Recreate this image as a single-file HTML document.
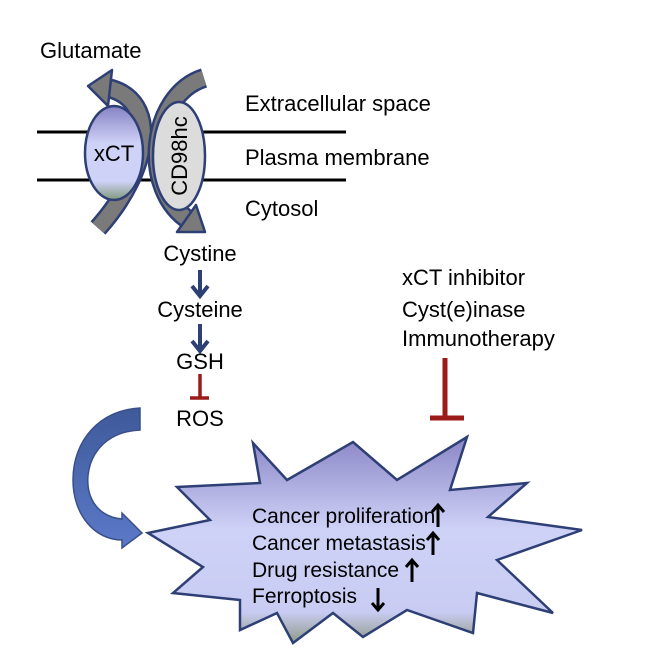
<!DOCTYPE html>
<html><head><style>
body{margin:0;background:#fff;}
svg{display:block;font-family:"Liberation Sans",Arial,sans-serif;}
</style></head><body>
<svg width="664" height="664" viewBox="0 0 664 664">
<defs>
<linearGradient id="sg" x1="0" y1="0" x2="0" y2="1">
<stop offset="0" stop-color="#8a86c6"/><stop offset="0.45" stop-color="#cfd2f7"/><stop offset="0.85" stop-color="#c9ccf2"/><stop offset="1" stop-color="#8f9a88"/>
</linearGradient>
<linearGradient id="xg" x1="0" y1="0" x2="0" y2="1">
<stop offset="0" stop-color="#8682c4"/><stop offset="0.4" stop-color="#cfd2f7"/><stop offset="0.8" stop-color="#cfd2f7"/><stop offset="1" stop-color="#7f9a7a"/>
</linearGradient>
<linearGradient id="ag" x1="0" y1="0" x2="0" y2="1">
<stop offset="0" stop-color="#3f5a9a"/><stop offset="1" stop-color="#5b79c8"/>
</linearGradient>
</defs>
<line x1="37" y1="132" x2="346" y2="132" stroke="#000" stroke-width="3"/>
<line x1="37" y1="180" x2="346" y2="180" stroke="#000" stroke-width="3"/>
<g fill="none" stroke-linecap="butt">
<path d="M98,228 C150,170 160,100 108,88" stroke="#2e3f75" stroke-width="20"/>
<path d="M98,228 C150,170 160,100 108,88" stroke="#7a7a7a" stroke-width="15"/>
<path d="M204,78 C150,95 140,190 190,221" stroke="#2e3f75" stroke-width="20"/>
<path d="M204,78 C150,95 140,190 190,221" stroke="#7a7a7a" stroke-width="15"/>
</g>
<polygon points="88,86 112,70 108,106" fill="#7a7a7a" stroke="#2e3f75" stroke-width="2.5" stroke-linejoin="round"/>
<polygon points="205,232 177,232 196,205" fill="#7a7a7a" stroke="#2e3f75" stroke-width="2.5" stroke-linejoin="round"/>
<ellipse cx="114" cy="153" rx="29" ry="47" fill="url(#xg)" stroke="#2e3f75" stroke-width="2.5"/>
<ellipse cx="179" cy="156" rx="26" ry="54" fill="#dcdcdc" stroke="#2e3f75" stroke-width="2.5"/>
<text x="114" y="161" font-size="22" text-anchor="middle">xCT</text>
<text transform="translate(187,156) rotate(-90)" font-size="22" text-anchor="middle">CD98hc</text>
<text x="40" y="58" font-size="22">Glutamate</text>
<text x="245" y="111" font-size="22">Extracellular space</text>
<text x="245" y="165" font-size="22">Plasma membrane</text>
<text x="245" y="216" font-size="22">Cytosol</text>
<text x="200" y="261" font-size="22" text-anchor="middle">Cystine</text>
<text x="200" y="317" font-size="22" text-anchor="middle">Cysteine</text>
<text x="200" y="369" font-size="22" text-anchor="middle">GSH</text>
<text x="200" y="426" font-size="22" text-anchor="middle">ROS</text>
<g stroke="#2e3f75" stroke-width="4" fill="none">
<path d="M200,270 V296 M192,286 L200,296 L208,286"/>
<path d="M200,324 V351 M192,341 L200,351 L208,341"/>
</g>
<path d="M200,374 V398 M190,398 H209" stroke="#9b1b1b" stroke-width="3.5" fill="none"/>
<text x="402" y="285" font-size="22">xCT inhibitor</text>
<text x="402" y="317" font-size="22">Cyst(e)inase</text>
<text x="402" y="346" font-size="22">Immunotherapy</text>
<path d="M445,358 V418 M430,418 H464" stroke="#9b1b1b" stroke-width="5" fill="none"/>
<path d="M140,408 L140,430 C95,432 82,470 90,495 C96,512 110,518 122,519 L122,513 L142,533 L122,548 L122,540 C95,540 73,515 73,480 C73,440 100,410 140,408 Z" fill="url(#ag)" stroke="#3a4f8a" stroke-width="1.5"/>
<polygon points="253,443 287,480 353,442 397,480 467,437 450,490 527,483 488,517 582,530 497,560 553,613 477,593 473,633 407,610 363,637 333,613 293,643 277,613 240,630 240,600 173,593 203,567 148,533 210,520 177,487 260,483" fill="url(#sg)" stroke="#2e3f75" stroke-width="2.5" stroke-linejoin="miter"/>
<text x="252" y="523" font-size="21">Cancer proliferation</text>
<text x="252" y="550" font-size="21">Cancer metastasis</text>
<text x="252" y="577" font-size="21">Drug resistance</text>
<text x="252" y="603" font-size="21">Ferroptosis</text>
<g stroke="#000" stroke-width="3" fill="none">
<path d="M438,527 V506 M432,512 L438,505 L444,512"/>
<path d="M433,555 V534 M427,540 L433,533 L439,540"/>
<path d="M412,582 V561 M406,567 L412,560 L418,567"/>
<path d="M378,588 V609 M372,603 L378,610 L384,603"/>
</g>
</svg>
</body></html>
